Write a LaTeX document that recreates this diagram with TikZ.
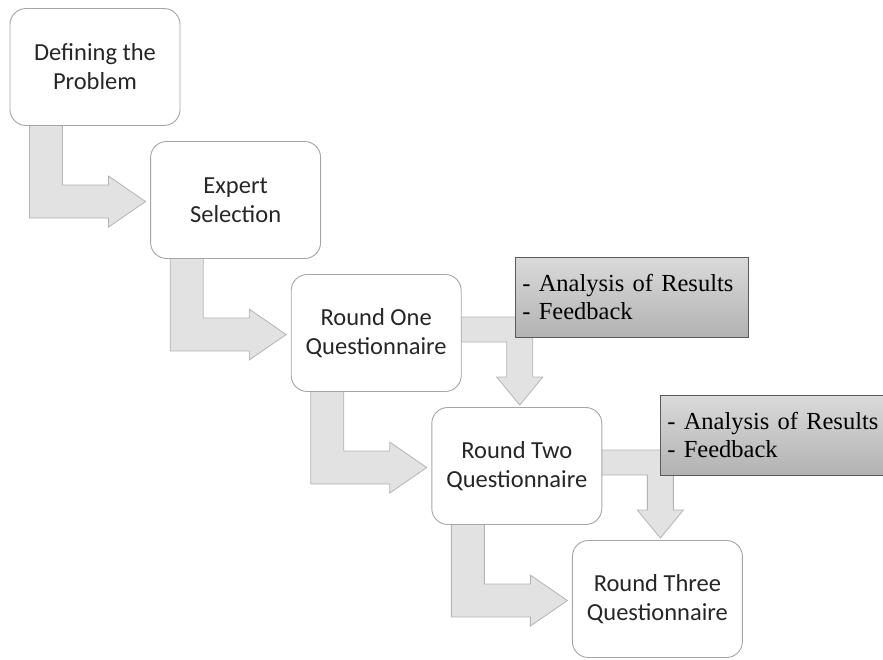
\documentclass[tikz,border=0pt]{standalone}
\usepackage{fontspec}
\setmainfont{Carlito}
\newfontfamily\notefont{Liberation Serif}
\usetikzlibrary{calc,shadings}
\pgfdeclarelayer{bg}
\pgfsetlayers{bg,main}

\definecolor{boxline}{HTML}{A6A6A6}
\definecolor{arrowfill}{HTML}{E2E2E2}
\definecolor{arrowline}{HTML}{B4B4B4}
\definecolor{notetop}{HTML}{DADADA}
\definecolor{notebottom}{HTML}{B2B2B2}
\definecolor{noteline}{HTML}{5A5A5A}

\tikzset{
  stage/.style={draw=boxline, line width=0.9pt, fill=white, rounded corners=16pt,
    minimum width=170pt, minimum height=117pt, inner sep=0pt, align=center,
    font=\fontsize{24.5}{29}\selectfont, text=black!85},
  note/.style={draw=noteline, line width=0.9pt, top color=notetop, bottom color=notebottom,
    minimum width=233pt, minimum height=80pt, anchor=north west, inner xsep=7pt, inner ysep=0pt,
    text width=219pt, align=left, font=\notefont\fontsize{24.5}{28}\selectfont},
  blockarrow/.style={fill=arrowfill, draw=arrowline, line width=0.8pt, line join=miter}
}

% L-shaped block arrow leaving the bottom of a stage and pointing right
\newcommand\stairarrow[1]{%
  \draw[blockarrow]
    ($(#1.south west)+(20,-6)$) -- ($(#1.north west)+(20,210)$)
    -- ($(#1.north west)+(99,210)$) -- ($(#1.north west)+(99,219)$)
    -- ($(#1.north west)+(136,193.5)$)
    -- ($(#1.north west)+(99,168)$) -- ($(#1.north west)+(99,177)$)
    -- ($(#1.north west)+(53,177)$) -- ($(#1.south west)+(53,-6)$) -- cycle;}

% L-shaped block arrow leaving the right side of a stage and pointing down
\newcommand\feedbackarrow[1]{%
  \draw[blockarrow]
    ($(#1.north east)+(-6,43)$) -- ($(#1.north west)+(242,43)$)
    -- ($(#1.north west)+(242,103)$) -- ($(#1.north west)+(252,103)$)
    -- ($(#1.north west)+(229,131)$)
    -- ($(#1.north west)+(206,103)$) -- ($(#1.north west)+(216,103)$)
    -- ($(#1.north west)+(216,68)$) -- ($(#1.north east)+(-6,68)$) -- cycle;}

\begin{document}
\begin{tikzpicture}[x=1pt, y=-1pt]
  \useasboundingbox (0,0) rectangle (883,659);
  \clip (0,0) rectangle (883,659);

  \node[stage] (s1) at (95,67)      {Defining the\\Problem};
  \node[stage] (s2) at (235.6,200)  {Expert\\Selection};
  \node[stage] (s3) at (376.2,333)  {Round One\\Questionnaire};
  \node[stage] (s4) at (516.8,466)  {Round Two\\Questionnaire};
  \node[stage] (s5) at (657.4,599)  {Round Three\\Questionnaire};

  \begin{pgfonlayer}{bg}
    \stairarrow{s1}
    \stairarrow{s2}
    \stairarrow{s3}
    \stairarrow{s4}
    \feedbackarrow{s3}
    \feedbackarrow{s4}
  \end{pgfonlayer}

  \node[note] (n1) at (515,257) {- Analysis of Results\\- Feedback};
  \node[note] (n2) at (660,395) {- Analysis of Results\\- Feedback};
\end{tikzpicture}
\end{document}
